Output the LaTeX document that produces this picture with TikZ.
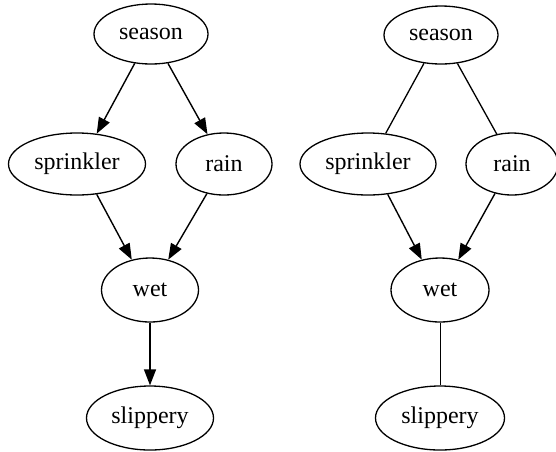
\documentclass[tikz,border=0pt]{standalone}
\usepackage{fontspec}
\setmainfont{Liberation Serif}
\usetikzlibrary{shapes.geometric,arrows.meta}
\begin{document}
\begin{tikzpicture}[x=1pt,y=-1pt,
  var/.style={ellipse,draw,line width=1.3pt,inner sep=0pt,font=\fontsize{24}{28}\selectfont},
  dir/.style={line width=1.4pt,-{Triangle[length=16pt,width=12pt]}},
  undir/.style={line width=1.3pt}]
\useasboundingbox (0,0) rectangle (556,451);
% left graph (directed)
\node[var,minimum width=114pt,minimum height=60pt] (s1) at (151,34) {season};
\node[var,minimum width=137pt,minimum height=62pt] (sp1) at (77,164) {sprinkler};
\node[var,minimum width=96pt,minimum height=62pt] (r1) at (224,164) {rain};
\node[var,minimum width=97pt,minimum height=64pt] (w1) at (150,290) {wet};
\node[var,minimum width=127pt,minimum height=64pt] (sl1) at (150,418) {slippery};
\draw[dir] (s1.241) -- (sp1.57);
\draw[dir] (s1.300) -- (r1.119);
\draw[dir] (sp1.303) -- (w1.121);
\draw[dir] (r1.240) -- (w1.59);
\draw[dir] (w1.south) -- (sl1.north);
% right graph (chain graph)
\node[var,minimum width=114pt,minimum height=58pt] (s2) at (441,35) {season};
\node[var,minimum width=136pt,minimum height=62pt] (sp2) at (368,164) {sprinkler};
\node[var,minimum width=92pt,minimum height=62pt] (r2) at (512,164) {rain};
\node[var,minimum width=98pt,minimum height=64pt] (w2) at (440,290) {wet};
\node[var,minimum width=129pt,minimum height=64pt] (sl2) at (440,418) {slippery};
\draw[undir] (s2.239) -- (sp2.60);
\draw[undir] (s2.300) -- (r2.117);
\draw[dir] (sp2.303) -- (w2.121);
\draw[dir] (r2.240) -- (w2.59);
\draw[undir,line width=1pt] (w2.south) -- (sl2.north);
\end{tikzpicture}
\end{document}
